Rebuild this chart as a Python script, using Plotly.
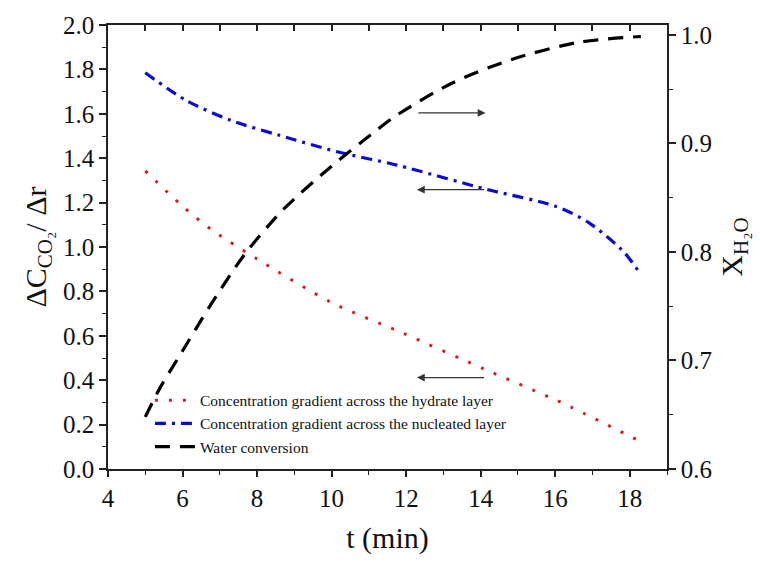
import plotly.graph_objects as go

# Data
t_hyd = [5, 6, 6.76, 8, 10, 11.9, 14.1, 15.85, 16.3, 18.3]
g_hyd = [1.343, 1.184, 1.08, 0.946, 0.75, 0.613, 0.45, 0.323, 0.289, 0.123]

t_nuc = [5, 6.1, 7.3, 8.6, 10.15, 11.75, 14.2, 16, 16.9, 17.85, 18.25]
g_nuc = [1.785, 1.66, 1.57, 1.503, 1.429, 1.369, 1.258, 1.184, 1.11, 0.976, 0.887]

t_wat = [5, 5.4, 5.95, 6.75, 7.65, 8.7, 10, 11.2, 11.75, 13.2, 14.8, 16.6, 18.3]
x_wat = [0.648, 0.675, 0.706, 0.751, 0.797, 0.839, 0.879, 0.912, 0.926, 0.955, 0.977, 0.993, 0.9985]

names = ["Concentration gradient across the hydrate layer",
         "Concentration gradient across the nucleated layer",
         "Water conversion"]

# arrows: (tail_t, head_t, y_left)
arrows = [(12.29, 14.13, 1.604), (14.13, 12.29, 1.258), (14.13, 12.29, 0.412)]

x_range = [4, 19]

FONT = "Liberation Serif, Times New Roman, serif"
AX = "#222222"

fig = go.Figure()
fig.add_trace(go.Scatter(x=t_hyd, y=g_hyd, mode="lines", name=names[0],
                         line=dict(color="#d42020", width=3, dash="3px,11px", shape="spline", smoothing=0.8)))
fig.add_trace(go.Scatter(x=t_nuc, y=g_nuc, mode="lines", name=names[1],
                         line=dict(color="#0a0ad0", width=3.2, dash="11px,6px,3px,6px", shape="spline", smoothing=0.8)))
fig.add_trace(go.Scatter(x=t_wat, y=x_wat, mode="lines", name=names[2], yaxis="y2",
                         line=dict(color="black", width=3.2, dash="15px,10px", shape="spline", smoothing=0.8)))
# invisible trace for top mirror axis
fig.add_trace(go.Scatter(x=[t_hyd[0]], y=[g_hyd[0]], xaxis="x2", yaxis="y", mode="markers",
                         marker=dict(opacity=0), showlegend=False, hoverinfo="skip"))

for tail, head, yv in arrows:
    fig.add_annotation(x=head, y=yv, ax=tail, ay=yv, xref="x", yref="y",
                       axref="x", ayref="y", text="", showarrow=True,
                       arrowhead=2, arrowsize=1.2, arrowwidth=1.3, arrowcolor="#333333")

fig.update_layout(
    width=760, height=566,
    margin=dict(l=108, r=93, t=20, b=97),
    paper_bgcolor="white", plot_bgcolor="white",
    font=dict(family=FONT, color="#111111", size=24),
    showlegend=True,
    legend=dict(x=0.075, y=0.012, xanchor="left", yanchor="bottom",
                bgcolor="rgba(0,0,0,0)", font=dict(size=15.5, family=FONT),
                tracegroupgap=0, itemwidth=40),
    xaxis=dict(range=x_range, dtick=2, tick0=4, showline=True, linecolor=AX, linewidth=1.5,
               ticks="outside", ticklen=6, tickwidth=1.5, tickcolor=AX,
               minor=dict(dtick=1, ticks="outside", ticklen=4, tickwidth=1.2, tickcolor=AX),
               showgrid=False, zeroline=False,
               title=dict(text="t (min)", font=dict(size=30, family=FONT), standoff=16),
               tickfont=dict(size=25, family=FONT)),
    xaxis2=dict(overlaying="x", range=x_range, side="top", anchor="y", showline=True,
                linecolor=AX, linewidth=1.5, ticks="inside", ticklen=6, tickwidth=1.5,
                tickcolor=AX, dtick=1, tick0=4, showticklabels=False, showgrid=False,
                zeroline=False),
    yaxis=dict(range=[0, 2.0], dtick=0.2, tickformat=".1f", showline=True, linecolor=AX,
               linewidth=1.5, ticks="outside", ticklen=7, tickwidth=1.5, tickcolor=AX,
               minor=dict(dtick=0.1, ticks="outside", ticklen=4, tickwidth=1.2, tickcolor=AX),
               showgrid=False, zeroline=False,
               title=dict(text="ΔC<sub>CO₂</sub>/ Δr", font=dict(size=30, family=FONT), standoff=8),
               tickfont=dict(size=25, family=FONT)),
    yaxis2=dict(range=[0.6, 1.0091], dtick=0.1, tick0=0.6, tickformat=".1f", overlaying="y",
                side="right", anchor="x", showline=True, linecolor=AX, linewidth=1.5,
                ticks="outside", ticklen=7, tickwidth=1.5, tickcolor=AX,
                minor=dict(dtick=0.05, ticks="outside", ticklen=4, tickwidth=1.2, tickcolor=AX),
                showgrid=False, zeroline=False,
                title=dict(text="X<sub>H₂O</sub>", font=dict(size=30, family=FONT), standoff=10),
                tickfont=dict(size=25, family=FONT)),
)

fig.write_html("out.html")
